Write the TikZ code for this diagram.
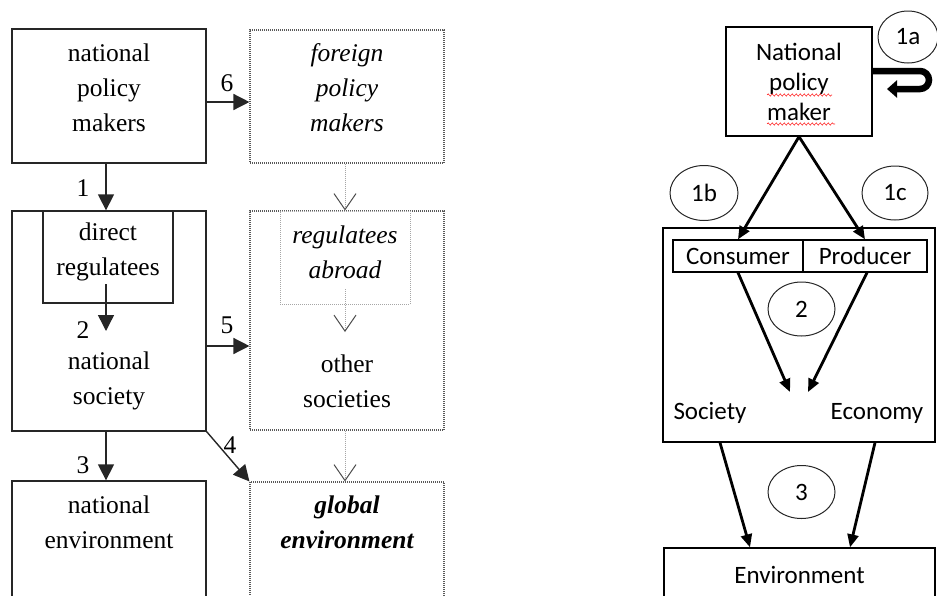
\documentclass[tikz,border=0pt]{standalone}
\usepackage{fontspec}
\setmainfont{Liberation Serif}
\newfontfamily\calibrifont{Carlito}
\usetikzlibrary{arrows.meta,shapes.geometric,decorations.pathmorphing}

\begin{document}
\begin{tikzpicture}[x=1pt,y=-1pt,
  % left-hand scheme
  serifsz/.style={font=\fontsize{25.5}{35}\selectfont, align=center, inner sep=0pt},
  solidbox/.style={draw=black!85, line width=1.3pt, minimum width=194pt, inner sep=0pt},
  dotbox/.style={draw=black!65, line width=1.1pt, dash pattern=on 1pt off 1pt, minimum width=194pt, inner sep=0pt},
  faintbox/.style={draw=black!35, line width=1pt, dash pattern=on 1pt off 1pt, minimum width=130pt, inner sep=0pt},
  numlbl/.style={font=\fontsize{25.5}{30}\selectfont, inner sep=0pt},
  farrow/.style={draw=black!85, line width=1.4pt, -{Triangle[length=16pt,width=16pt]}},
  varrow/.style={draw=black!35, line width=1pt, dash pattern=on 1pt off 1pt,
                 -{Straight Barb[length=16pt,width=22pt,line width=1pt,color=black!70]}},
  % right-hand scheme
  sanssz/.style={font=\calibrifont\fontsize{25}{30}\selectfont, align=center, inner sep=0pt},
  rbox/.style={draw=black, line width=1.3pt, inner sep=0pt},
  oval/.style={ellipse, draw=black!85, line width=1pt, inner sep=0pt, font=\calibrifont\fontsize{25}{30}\selectfont},
  rarrow/.style={draw=black, line width=2.8pt, -{Triangle[length=13pt,width=11pt]}},
  uturn/.style={draw=black, line width=6.5pt, rounded corners=9pt, -{Triangle[length=10pt,width=17pt]}},
  squig/.style={draw=red!85, line width=0.6pt, decorate,
                decoration={snake, amplitude=1.1pt, segment length=4pt}}
]
\useasboundingbox (0,0) rectangle (937,595);
\clip (0,0) rectangle (937,595);

% ---------------- left scheme: boxes ----------------
\node[solidbox, minimum height=134pt] (npm) at (109,96) {};
\node[serifsz] (npmtxt) at (109,88) {national\\policy\\makers};

\node[dotbox, minimum height=133pt] (fpm) at (347,96.5) {};
\node[serifsz, font=\fontsize{25.5}{35}\selectfont\itshape] (fpmtxt) at (347,88) {foreign\\policy\\makers};

\node[solidbox, minimum height=220pt] (ns) at (109,321) {};
\node[solidbox, minimum width=130pt, minimum height=92pt] (dr) at (108,257) {};
\node[serifsz] (drtxt) at (108,252) {direct\\regulatees};
\node[serifsz] (nstxt) at (109,381) {national\\society};

\node[dotbox, minimum height=219pt] (ra) at (347,320.5) {};
\node[faintbox, minimum height=93pt] (rai) at (345,257.5) {};
\node[serifsz, font=\fontsize{25.5}{35}\selectfont\itshape] (raitxt) at (345,252) {regulatees\\abroad};
\node[serifsz] (ostxt) at (347,381) {other\\societies};

\node[solidbox, minimum height=120pt] (ne) at (109,541) {};
\node[serifsz] (netxt) at (109,522) {national\\environment};

\node[dotbox, minimum height=120pt] (ge) at (347,542) {};
\node[serifsz, font=\fontsize{25.5}{35}\selectfont\bfseries\itshape] (getxt) at (347,522) {global\\environment};

% ---------------- left scheme: links ----------------
\coordinate (d2s) at (106,284);
\coordinate (d2e) at (106,331);
\coordinate (r2s) at (345,289);
\coordinate (r2e) at (345,332);

\draw[farrow] (npm.east |- 0,102) -- (fpm.west |- 0,102);
\draw[farrow] ([xshift=-3pt]npm.south) -- ([xshift=-3pt]ns.north);
\draw[farrow] (d2s) -- (d2e);
\draw[farrow] (ns.east |- 0,346) -- (ra.west |- 0,346);
\draw[farrow] ([xshift=-3pt]ns.south) -- ([xshift=-3pt]ne.north);
\draw[farrow] (ns.south east) -- (ge.north west);

\draw[varrow] ([xshift=-2pt]fpm.south) -- ([xshift=-2pt]ra.north);
\draw[varrow] (r2s) -- (r2e);
\draw[varrow] ([xshift=-2pt]ra.south) -- ([xshift=-2pt]ge.north);

\node[numlbl] (n6) at (227,83) {6};
\node[numlbl] (n1) at (83,188) {1};
\node[numlbl] (n2) at (83,330) {2};
\node[numlbl] (n5) at (227,325) {5};
\node[numlbl] (n3) at (83,465) {3};
\node[numlbl] (n4) at (230,445) {4};

% ---------------- right scheme: boxes ----------------
\node[rbox, sanssz, minimum width=146pt, minimum height=109pt] (npmR) at (799,81.5) {National\\policy\\maker};
\draw[squig] (767,95) -- (832,95);
\draw[squig] (767,124) -- (835,124);

\node[oval, minimum width=60pt, minimum height=52pt] (e1a) at (908,37) {1a};
\node[oval, minimum width=68pt, minimum height=55pt] (e1b) at (704,193) {1b};
\node[oval, minimum width=66pt, minimum height=54pt] (e1c) at (895,193) {1c};

\node[rbox, minimum width=272pt, minimum height=214pt] (soc) at (799,335) {};
\node[rbox, sanssz, minimum width=130pt, minimum height=32pt] (cons) at (738,256) {Consumer};
\node[rbox, sanssz, minimum width=124pt, minimum height=32pt] (prod) at (865,256) {Producer};
\node[oval, minimum width=67pt, minimum height=54pt] (e2) at (801.5,309) {2};
\node[sanssz] (society) at (710,413) {Society};
\node[sanssz] (economy) at (877,413) {Economy};

\node[oval, minimum width=67pt, minimum height=53pt] (e3) at (801.5,492) {3};
\node[rbox, sanssz, minimum width=271pt, minimum height=54pt] (env) at (799.5,575) {Environment};

% ---------------- right scheme: links ----------------
\coordinate (tipc) at (790,392);
\coordinate (tipp) at (808,392);

\draw[uturn] (npmR.east |- 0,71) -- (929,71) -- (929,89) -- (887,89);
\draw[rarrow] (npmR.south) -- (cons.north);
\draw[rarrow] (npmR.south) -- (prod.north);
\draw[rarrow] (cons.south) -- (tipc);
\draw[rarrow] ([xshift=2pt]prod.south) -- (tipp);
\draw[rarrow] (soc.south -| 720,0) -- (env.north -| 750,0);
\draw[rarrow] (soc.south -| 875,0) -- (env.north -| 850,0);
\end{tikzpicture}
\end{document}
